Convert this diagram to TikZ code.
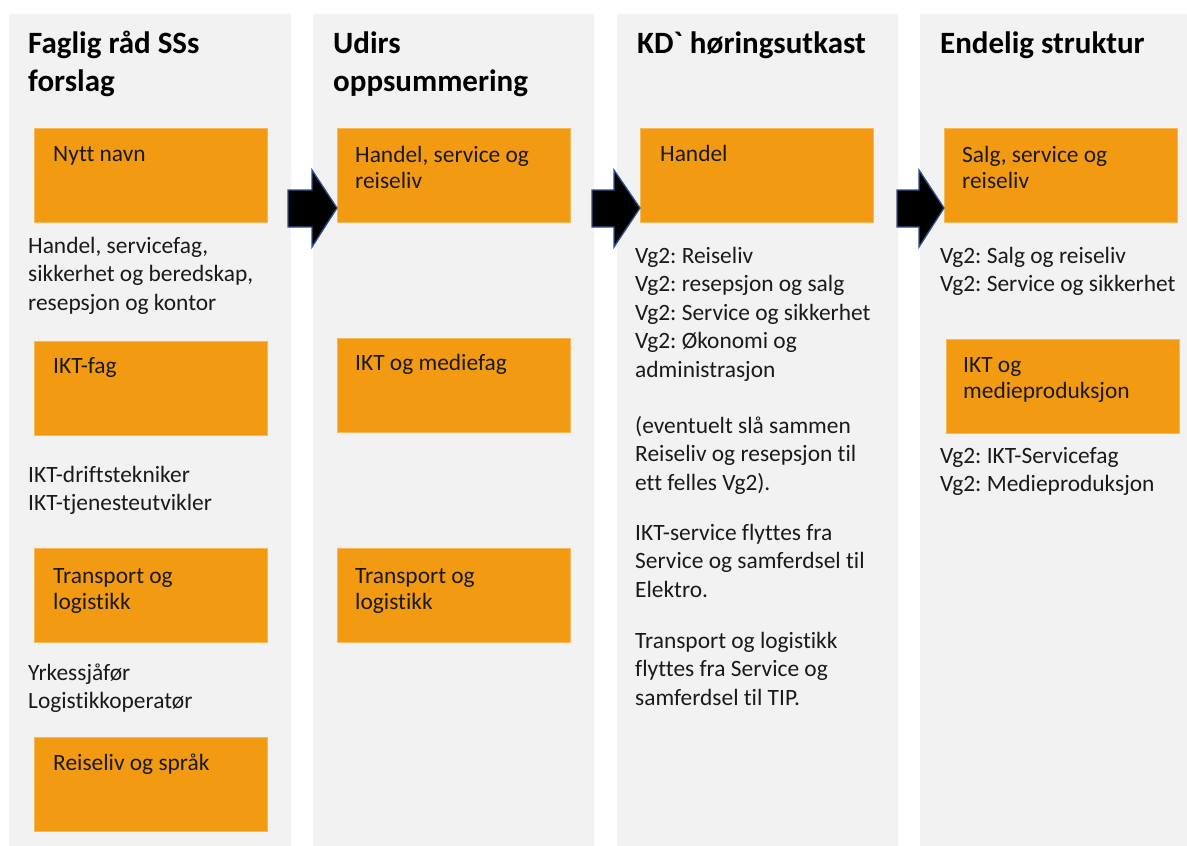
\documentclass[tikz,border=0pt]{standalone}
\usepackage{fontspec}
\setmainfont{Carlito}[Ligatures={NoCommon}]
\newfontfamily\grvfont{Carlito}
\frenchspacing
\definecolor{colbg}{HTML}{F2F2F2}
\definecolor{boxor}{HTML}{F39A13}
\definecolor{arrline}{HTML}{2F528F}
\definecolor{txtc}{HTML}{1A1A1A}
\newcommand{\pb}[1]{\parbox[t]{300pt}{\raggedright\frenchspacing #1}}
\tikzset{
  colbox/.style={fill=colbg, draw=none, anchor=north west, inner sep=0, minimum height=832},
  obox/.style={fill=boxor, draw=boxor!70!white, line width=0.6, anchor=north west, inner sep=0, minimum width=233, minimum height=94},
  titletxt/.style={anchor=base west, inner sep=0, text=black, font=\fontsize{31}{38}\selectfont\bfseries},
  bodytxt/.style={anchor=base west, inner sep=0, text=txtc, font=\fontsize{23.4}{28.5}\selectfont},
  boxtxt/.style={anchor=base west, inner sep=0, text=txtc, font=\fontsize{23.4}{26.7}\selectfont},
  blockarrow/.style={draw=arrline, fill=black, line width=1.3, line join=miter}
}
\begin{document}
\begin{tikzpicture}[x=1pt, y=-1pt]
\useasboundingbox (0,0) rectangle (1187,846);
% columns
\node[colbox, minimum width=282] (c1) at (9,14) {};
\node[colbox, minimum width=281] (c2) at (313,14) {};
\node[colbox, minimum width=281] (c3) at (617,14) {};
\node[colbox, minimum width=267] (c4) at (920,14) {};
% titles
\node[titletxt] (h1) at (28,53) {\pb{Faglig råd SSs\\forslag}};
\node[titletxt] (h2) at (333,53) {\pb{Udirs\\oppsummering}};
\node[titletxt] (h3) at (637,53) {\pb{KD{\grvfont\symbol{96}} høringsutkast}};
\node[titletxt] (h4) at (940,53) {\pb{Endelig struktur}};
% column 1
\node[obox] (b11) at (34,128) {};
\node[boxtxt] (t11) at (53,161) {\pb{Nytt navn}};
\node[bodytxt] (d11) at (28,253) {\pb{Handel, servicefag,\\sikkerhet og beredskap,\\resepsjon og kontor}};
\node[obox] (b12) at (34,341) {};
\node[boxtxt] (t12) at (53,373) {\pb{IKT-fag}};
\node[bodytxt] (d12) at (28,482) {\pb{IKT-driftstekniker\\IKT-tjenesteutvikler}};
\node[obox] (b13) at (34,548) {};
\node[boxtxt] (t13) at (53,583) {\pb{Transport og\\logistikk}};
\node[bodytxt] (d13) at (28,680) {\pb{Yrkessjåfør\\Logistikkoperatør}};
\node[obox] (b14) at (34,737) {};
\node[boxtxt] (t14) at (53,770) {\pb{Reiseliv og språk}};
% column 2
\node[obox] (b21) at (337,128) {};
\node[boxtxt] (t21) at (355,162) {\pb{Handel, service og\\reiseliv}};
\node[obox] (b22) at (337,338) {};
\node[boxtxt] (t22) at (355,370) {\pb{IKT og mediefag}};
\node[obox] (b23) at (337,548) {};
\node[boxtxt] (t23) at (355,583) {\pb{Transport og\\logistikk}};
% column 3
\node[obox] (b31) at (640,128) {};
\node[boxtxt] (t31) at (660,161) {\pb{Handel}};
\node[bodytxt] (d31) at (635,263) {\pb{Vg2: Reiseliv\\Vg2: resepsjon og salg\\Vg2: Service og sikkerhet\\Vg2: Økonomi og\\administrasjon}};
\node[bodytxt] (d32) at (635,433) {\pb{(eventuelt slå sammen\\Reiseliv og resepsjon til\\ett felles Vg2).}};
\node[bodytxt] (d33) at (635,540) {\pb{IKT-service flyttes fra\\Service og samferdsel til\\Elektro.}};
\node[bodytxt] (d34) at (635,648) {\pb{Transport og logistikk\\flyttes fra Service og\\samferdsel til TIP.}};
% column 4
\node[obox] (b41) at (944,128) {};
\node[boxtxt] (t41) at (962,162) {\pb{Salg, service og\\reiseliv}};
\node[bodytxt] (d41) at (940,263) {\pb{Vg2: Salg og reiseliv\\Vg2: Service og sikkerhet}};
\node[obox] (b42) at (946,339) {};
\node[boxtxt] (t42) at (963,372) {\pb{IKT og\\medieproduksjon}};
\node[bodytxt] (d42) at (940,463) {\pb{Vg2: IKT-Servicefag\\Vg2: Medieproduksjon}};
% block arrows
\draw[blockarrow] (288,190) -- (312,190) -- (312,170) -- (337,208) -- (312,247) -- (312,227) -- (288,227) -- cycle;
\draw[blockarrow] (592,190) -- (614,190) -- (614,170) -- (640,208) -- (614,247) -- (614,227) -- (592,227) -- cycle;
\draw[blockarrow] (897,190) -- (919,190) -- (919,170) -- (944,208) -- (919,247) -- (919,227) -- (897,227) -- cycle;
\end{tikzpicture}
\end{document}
